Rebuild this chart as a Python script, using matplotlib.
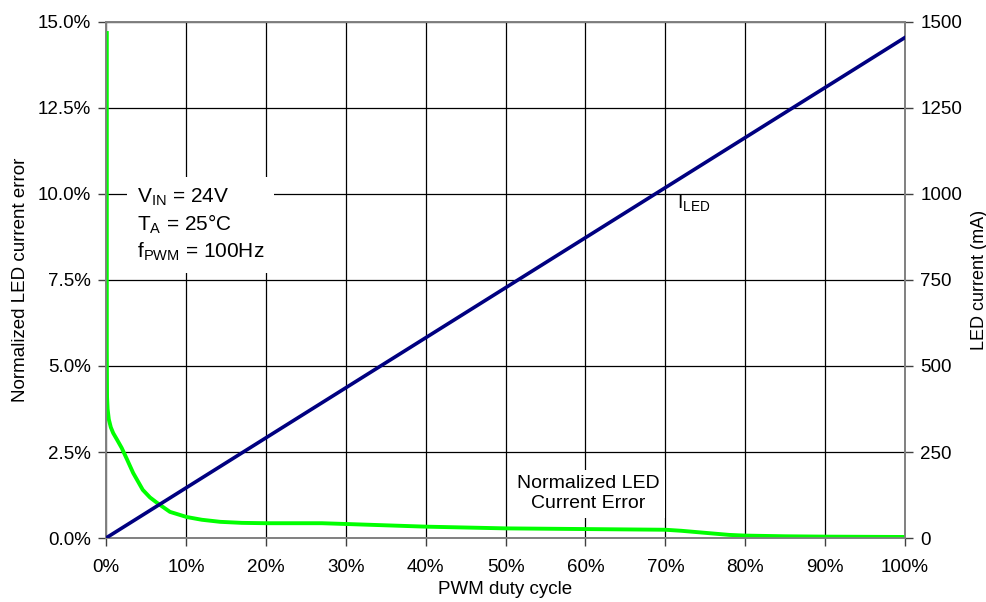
import matplotlib
matplotlib.use("Agg")
import matplotlib.pyplot as plt
from matplotlib.ticker import FuncFormatter, MultipleLocator

plt.rcParams['font.family'] = ['Liberation Sans', 'DejaVu Sans']

# Data
duty = [0.0, 100.0]                      # PWM duty cycle (%)
iled = [0.0, 1455.0]                     # LED current (mA)

err_x = [0.1, 0.1, 0.13, 0.2, 0.35, 0.6, 0.9, 1.4, 1.96, 2.6, 3.4, 4.6, 5.5, 6.4, 8.0, 10.1,
         12.0, 14.3, 17.0, 20.0, 27.0, 31.0, 40.0, 50.0, 60.0, 70.0, 72.0, 75.0, 78.0, 80.0,
         85.0, 90.0, 100.0]
err_y = [14.68, 5.5, 4.1, 3.75, 3.45, 3.22, 3.05, 2.85, 2.62, 2.3, 1.89, 1.4, 1.18, 1.02, 0.76, 0.61,
         0.53, 0.47, 0.44, 0.43, 0.43, 0.40, 0.33, 0.28, 0.26, 0.24, 0.21, 0.15, 0.09, 0.07,
         0.05, 0.04, 0.03]

fig = plt.figure(figsize=(9.87, 6.02), dpi=100)
ax = fig.add_axes([0.1074, 0.1063, 0.8096, 0.8572])
ax2 = ax.twinx()

ax.set_xlim(0, 100)
ax.set_ylim(0, 15)
ax2.set_ylim(0, 1500)

ax.xaxis.set_major_locator(MultipleLocator(10))
ax.yaxis.set_major_locator(MultipleLocator(2.5))
ax2.yaxis.set_major_locator(MultipleLocator(250))
ax.xaxis.set_major_formatter(FuncFormatter(lambda v, p: f"{v:.0f}%"))
ax.yaxis.set_major_formatter(FuncFormatter(lambda v, p: f"{v:.1f}%"))

ax.grid(True, color='black', linewidth=0.9)
ax.set_axisbelow(True)

for a in (ax, ax2):
    for s in a.spines.values():
        s.set_color('#808080')
        s.set_linewidth(1.2)
    a.tick_params(direction='out', length=6, width=1, color='#404040', labelsize=13.5,
                  labelcolor='black', pad=5)
ax.tick_params(axis='x', pad=9)

ax.plot(err_x, err_y, color='#00ff00', linewidth=2.8, zorder=3, solid_joinstyle='round')
ax2.plot(duty, iled, color='#000080', linewidth=2.6, zorder=3)

ax.set_xlabel("PWM duty cycle", fontsize=13.5, labelpad=4)
ax.set_ylabel("Normalized LED current error", fontsize=13.5, labelpad=6)
ax2.set_ylabel("LED current (mA)", fontsize=13, labelpad=6)

ax.text(3.9, 9.1, "V$_{\\mathregular{IN}}$ = 24V\nT$_{\\mathregular{A}}$ = 25°C\nf$_{\\mathregular{PWM}}$ = 100Hz",
        fontsize=15, va='center', ha='left', linespacing=1.25,
        bbox=dict(facecolor='white', edgecolor='none', pad=7), zorder=4)
ax.text(71.5, 9.7, "I$_{\\mathregular{LED}}$", fontsize=14, ha='left', va='center')
ax.text(60.3, 1.29, "Normalized LED\nCurrent Error", fontsize=14, ha='center', va='center',
        linespacing=1.2, bbox=dict(facecolor='white', edgecolor='none', pad=4), zorder=4)

fig.savefig("out.png", dpi=100)
